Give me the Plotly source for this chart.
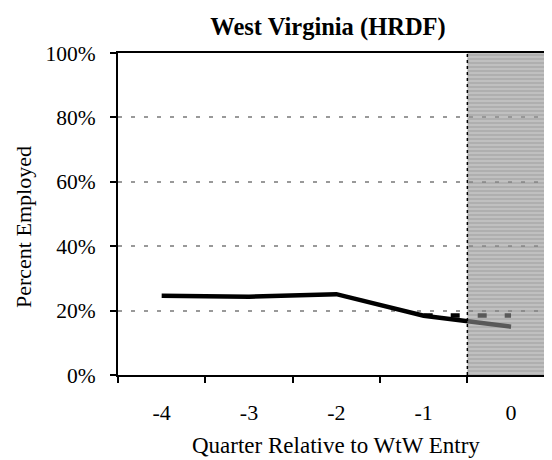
import plotly.graph_objects as go

quarters = [-4, -3, -2, -1, 0]
employed = [24.6, 24.3, 25.1, 18.4, 15.0]
comp_quarters = [-1, 0]
comp_employed = [18.5, 18.5]
y_ticks = [0, 20, 40, 60, 80, 100]
y_labels = ["0%", "20%", "40%", "60%", "80%", "100%"]
title_text = "West Virginia (HRDF)"
x_title = "Quarter Relative to WtW Entry"
y_title = "Percent Employed"

x_min, x_max = -4.5, 0.469
shade_start = -0.5
FONT = "Liberation Serif, Times New Roman, serif"

# page body has an 8px margin; figure is sized so that it fills the 552x460 window
W, H = 544, 452
OFF = 8

fig = go.Figure()
fig.add_trace(go.Scatter(
    x=quarters, y=employed, mode="lines",
    line=dict(color="black", width=4.5), hoverinfo="skip", showlegend=False))
fig.add_trace(go.Scatter(
    x=comp_quarters, y=comp_employed, mode="lines",
    line=dict(color="black", width=4.5, dash="9px,18px"), hoverinfo="skip", showlegend=False))
# shaded post-entry region (drawn on top so lines show through toned)
fig.add_trace(go.Scatter(
    x=[shade_start, x_max, x_max, shade_start, shade_start],
    y=[0, 0, 100, 100, 0], mode="none", fill="toself",
    fillcolor="rgba(150,150,150,0.6)",
    fillpattern=dict(shape="-", size=4, solidity=0.5,
                     bgcolor="rgba(150,150,150,0.6)", fgcolor="rgba(70,70,70,0.3)"),
    hoverinfo="skip", showlegend=False))

fig.add_shape(type="line", xref="x", yref="y", x0=shade_start, x1=shade_start, y0=0, y1=100,
              line=dict(color="black", width=1.5, dash="dot"), layer="above")

fig.update_layout(
    width=W, height=H,
    margin=dict(l=118 - OFF, r=0, t=53 - OFF, b=H - (375 - OFF), autoexpand=False),
    paper_bgcolor="white", plot_bgcolor="white",
    font=dict(family=FONT, size=22, color="black"),
    title=dict(text="<b>" + title_text + "</b>", x=(328 - OFF) / W, xref="container", xanchor="center",
               y=1 - (26 - OFF) / H, yref="container", yanchor="middle", font=dict(family=FONT, size=24.5)),
    xaxis=dict(range=[x_min, x_max], tickvals=quarters, ticktext=[str(q) for q in quarters],
               ticks="", showgrid=False, zeroline=False,
               showline=True, linecolor="black", linewidth=2, mirror=True,
               minor=dict(tick0=-4.5, dtick=1, ticks="outside", ticklen=6, tickcolor="black",
                          tickwidth=1.5, showgrid=False),
               tickfont=dict(family=FONT, size=22), ticklabelstandoff=17),
    yaxis=dict(range=[0, 100], tickvals=y_ticks, ticktext=y_labels,
               ticks="outside", ticklen=6, tickcolor="black", tickwidth=1.5,
               showline=True, linecolor="black", linewidth=2, zeroline=False,
               showgrid=True, gridcolor="#999999", gridwidth=1.5, griddash="4px,9px",
               tickfont=dict(family=FONT, size=21.5), ticklabelstandoff=10),
    annotations=[
        dict(text=x_title, xref="paper", yref="paper", x=(336 - 118) / 434, y=-(445 - 375) / 322,
             xanchor="center", yanchor="middle", showarrow=False, font=dict(family=FONT, size=23)),
        dict(text=y_title, xref="paper", yref="paper", x=(23 - 118) / 434, y=(375 - 227) / 322,
             xanchor="center", yanchor="middle", textangle=-90, showarrow=False,
             font=dict(family=FONT, size=22)),
    ],
)

fig.write_html("out.html")
